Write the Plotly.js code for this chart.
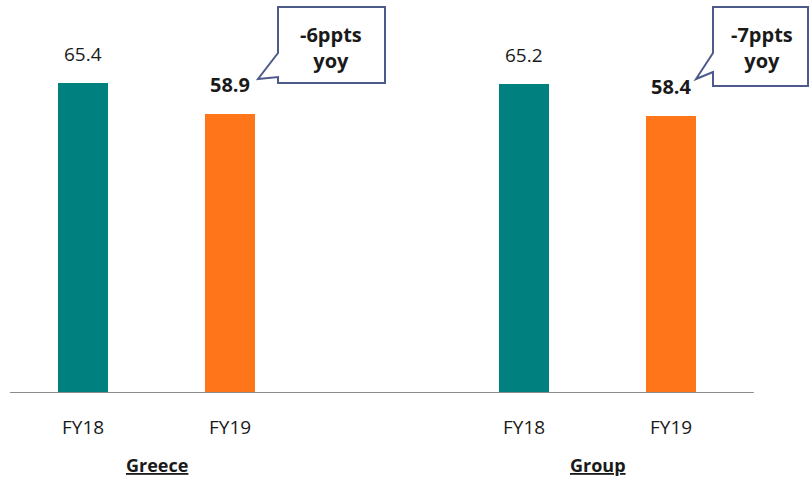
<!DOCTYPE html>
<html><head><meta charset="utf-8">
<script src="https://cdn.plot.ly/plotly-3.0.1.min.js"></script>
<style>html,body{margin:0;padding:0;background:#fff}#chart{width:811px;height:477px}</style>
</head><body><div id="chart"></div>
<script>
// ---- data ----
const groups = ["Greece", "Group"];
const years = ["FY18", "FY19"];
const greeceValues = [65.4, 58.9];
const groupValues = [65.2, 58.4];
const valueLabels = [["65.4", "58.9"], ["65.2", "58.4"]];
const calloutTexts = ["-6ppts<br>yoy", "-7ppts<br>yoy"];

const W = 811, H = 477, BASE = 393;
const FONT = "'Open Sans', 'Noto Sans', sans-serif";
const yearColors = ["#00807F", "#FF761A"];
const series = [greeceValues, groupValues];

const traces = years.map((yr, yi) => ({
  type: "bar",
  x: groups.map((g, gi) => gi * 3 + yi),
  y: groups.map((g, gi) => series[gi][yi]),
  width: 0.34,
  marker: {color: yearColors[yi]},
  hoverinfo: "none",
  showlegend: false
}));

const px = v => v / W;
const py = v => (BASE - v) / BASE;

const annotations = [];
groups.forEach((g, gi) => years.forEach((yr, yi) => {
  const val = series[gi][yi];
  const bold = yi === 1;
  annotations.push({
    x: gi * 3 + yi, y: val, xref: "x", yref: "y",
    text: bold ? "<b>" + valueLabels[gi][yi] + "</b>" : valueLabels[gi][yi],
    showarrow: false, yanchor: "bottom", yshift: 14,
    font: {family: FONT, size: bold ? 20 : 19, color: "#1a1a1a"}
  });
  annotations.push({
    x: gi * 3 + yi, y: 0, xref: "x", yref: "y",
    text: yr, showarrow: false, yanchor: "middle", yshift: -34,
    font: {family: FONT, size: 19, color: "#1a1a1a"}
  });
}));
groups.forEach((g, gi) => {
  annotations.push({
    x: gi * 3 + 0.5, y: 0, xref: "x", yref: "y",
    text: "<b><u>" + g + "</u></b>", showarrow: false, yanchor: "middle", yshift: -72,
    borderpad: 0,
    font: {family: FONT, size: 18, color: "#1a1a1a"}
  });
});

// callouts (pixel geometry of boxes)
const callouts = [
  {box: [278, 7, 385, 83], p1: 53, p2: 77, tip: [258, 79], cx: 331},
  {box: [713, 7, 808, 86], p1: 53, p2: 72, tip: [696, 79], cx: 762}
];
const shapes = [];
callouts.forEach((c, i) => {
  const [x0, y0, x1, y1] = c.box;
  const pts = [[x0, y0], [x1, y0], [x1, y1], [x0, y1], [x0, c.p2], c.tip, [x0, c.p1]];
  const path = "M " + pts.map(p => px(p[0]) + "," + py(p[1])).join(" L ") + " Z";
  shapes.push({type: "path", xref: "paper", yref: "paper", path: path,
    fillcolor: "#ffffff", line: {color: "#4E5A8A", width: 2}});
  annotations.push({
    xref: "paper", yref: "paper", x: px(c.cx), y: py(48),
    text: "<b>" + calloutTexts[i] + "</b>", showarrow: false,
    xanchor: "center", yanchor: "middle",
    font: {family: FONT, size: 20, color: "#1a1a1a"}
  });
});
// baseline
shapes.push({type: "line", xref: "x", yref: "y", x0: -0.497, x1: 4.56, y0: 0, y1: 0,
  line: {color: "#8c8c8c", width: 2}});

const layout = {
  width: W, height: H,
  margin: {l: 0, r: 0, t: 0, b: H - BASE, pad: 0},
  paper_bgcolor: "#fff", plot_bgcolor: "#fff",
  xaxis: {range: [-83 / 147.1, (W - 83) / 147.1], showgrid: false, zeroline: false,
    showline: false, showticklabels: false, ticks: "", fixedrange: true},
  yaxis: {range: [0, BASE / 4.74], showgrid: false, zeroline: false, showline: false,
    showticklabels: false, ticks: "", fixedrange: true},
  shapes: shapes,
  annotations: annotations,
  bargap: 0
};
Plotly.newPlot("chart", traces, layout, {displayModeBar: false, staticPlot: true});
</script></body></html>
